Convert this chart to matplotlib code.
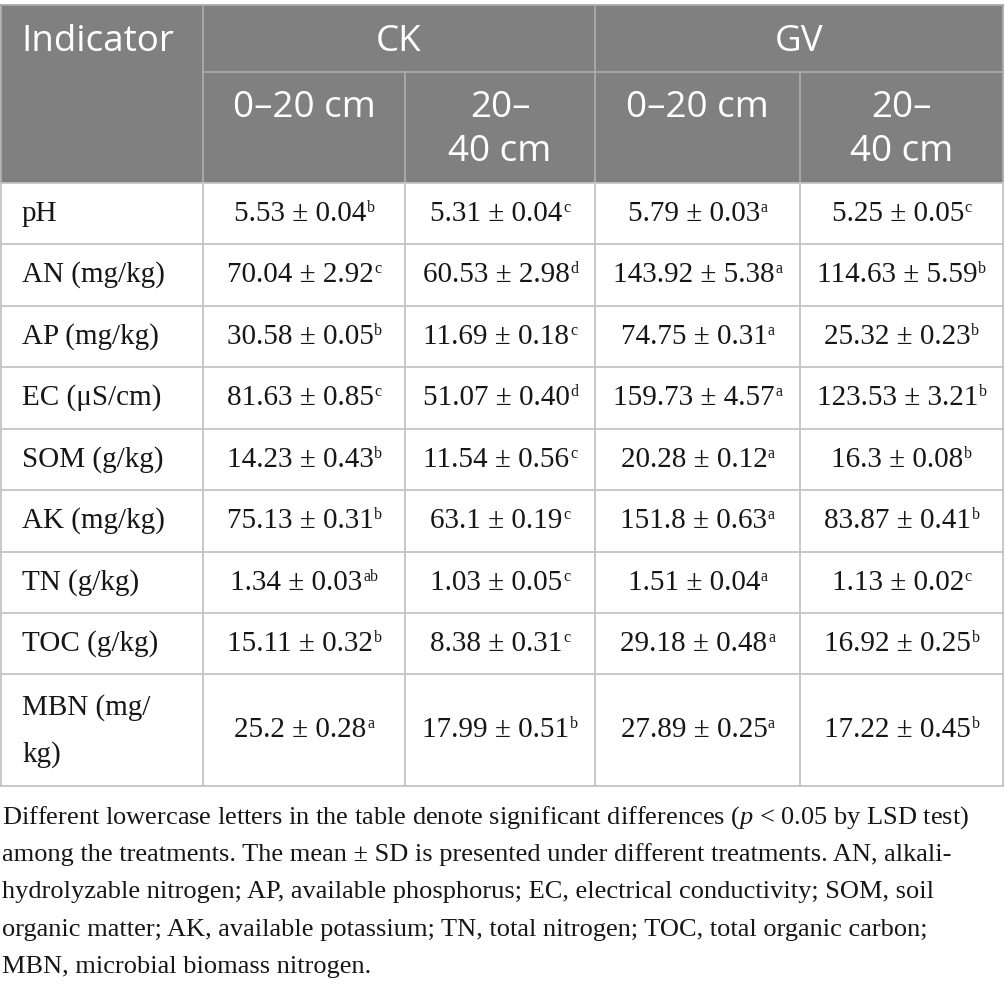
import matplotlib
matplotlib.use("Agg")
import matplotlib.pyplot as plt
from matplotlib.patches import Rectangle

plt.rcParams['mathtext.fontset'] = 'custom'
plt.rcParams['mathtext.rm'] = 'Liberation Serif'
plt.rcParams['mathtext.it'] = 'Liberation Serif:italic'

# --- table content ---
groups = ["CK", "GV"]
depths = ["0\u201320 cm", "20\u2013\n40 cm", "0\u201320 cm", "20\u2013\n40 cm"]
indicators = ["pH", "AN (mg/kg)", "AP (mg/kg)", "EC (\u03bcS/cm)", "SOM (g/kg)",
              "AK (mg/kg)", "TN (g/kg)", "TOC (g/kg)", "MBN (mg/\nkg)"]

ck_0_20 = ["5.53", "70.04", "30.58", "81.63", "14.23", "75.13", "1.34", "15.11", "25.2"]
ck_0_20_sd = ["0.04", "2.92", "0.05", "0.85", "0.43", "0.31", "0.03", "0.32", "0.28"]
ck_0_20_let = ["b", "c", "b", "c", "b", "b", "ab", "b", "a"]

ck_20_40 = ["5.31", "60.53", "11.69", "51.07", "11.54", "63.1", "1.03", "8.38", "17.99"]
ck_20_40_sd = ["0.04", "2.98", "0.18", "0.40", "0.56", "0.19", "0.05", "0.31", "0.51"]
ck_20_40_let = ["c", "d", "c", "d", "c", "c", "c", "c", "b"]

gv_0_20 = ["5.79", "143.92", "74.75", "159.73", "20.28", "151.8", "1.51", "29.18", "27.89"]
gv_0_20_sd = ["0.03", "5.38", "0.31", "4.57", "0.12", "0.63", "0.04", "0.48", "0.25"]
gv_0_20_let = ["a", "a", "a", "a", "a", "a", "a", "a", "a"]

gv_20_40 = ["5.25", "114.63", "25.32", "123.53", "16.3", "83.87", "1.13", "16.92", "17.22"]
gv_20_40_sd = ["0.05", "5.59", "0.23", "3.21", "0.08", "0.41", "0.02", "0.25", "0.45"]
gv_20_40_let = ["c", "b", "b", "b", "b", "b", "c", "b", "b"]

footnote = [
    "Different lowercase letters in the table denote significant differences ($\\mathit{p}$ < 0.05 by LSD test)",
    "among the treatments. The mean \u00b1 SD is presented under different treatments. AN, alkali-",
    "hydrolyzable nitrogen; AP, available phosphorus; EC, electrical conductivity; SOM, soil",
    "organic matter; AK, available potassium; TN, total nitrogen; TOC, total organic carbon;",
    "MBN, microbial biomass nitrogen.",
]

columns = [(ck_0_20, ck_0_20_sd, ck_0_20_let), (ck_20_40, ck_20_40_sd, ck_20_40_let),
           (gv_0_20, gv_0_20_sd, gv_0_20_let), (gv_20_40, gv_20_40_sd, gv_20_40_let)]

# --- layout in pixels ---
W, H = 1005, 988
col_x = [1, 203, 405, 595, 800, 1003]
row_y = [183, 244, 306, 367, 429, 490, 552, 613, 674, 786]
top, mid = 5, 72
head_bg = "#808080"
head_line = "#ababab"
body_line = "#c4c4c4"
ink = "#161616"
sans = "Open Sans"
serif = "Liberation Serif"
head_fs = 26.5

fig = plt.figure(figsize=(W / 100, H / 100), dpi=100)
ax = fig.add_axes([0, 0, 1, 1])
ax.set_xlim(0, W)
ax.set_ylim(H, 0)
ax.axis("off")
renderer = fig.canvas.get_renderer()

# header block
ax.add_patch(Rectangle((col_x[0], top), col_x[-1] - col_x[0], row_y[0] - top,
                       facecolor=head_bg, edgecolor="none"))
lw = 1.3
ax.plot([col_x[0], col_x[-1]], [top, top], color=head_line, lw=lw)
ax.plot([col_x[1], col_x[-1]], [mid, mid], color=head_line, lw=lw)
for x in [col_x[0], col_x[1], col_x[3], col_x[5]]:
    ax.plot([x, x], [top, row_y[0]], color=head_line, lw=lw)
for x in [col_x[2], col_x[4]]:
    ax.plot([x, x], [mid, row_y[0]], color=head_line, lw=lw)

ax.text(21, 42, "Indicator", color="white", fontsize=head_fs, family=sans,
        ha="left", va="center")
for i, g in enumerate(groups):
    xc = (col_x[1 + 2 * i] + col_x[3 + 2 * i]) / 2
    ax.text(xc, 42, g, color="white", fontsize=head_fs, family=sans,
            ha="center", va="center")
for i, d in enumerate(depths):
    xc = (col_x[i + 1] + col_x[i + 2]) / 2
    for k, part in enumerate(d.split("\n")):
        ax.text(xc, 108 + 44 * k, part, color="white", fontsize=head_fs, family=sans,
                ha="center", va="center")

# body grid
for y in row_y:
    ax.plot([col_x[0], col_x[-1]], [y, y], color=body_line, lw=lw)
for x in col_x:
    ax.plot([x, x], [row_y[0], row_y[-1]], color=body_line, lw=lw)


def cell(xc, yc, main, sup):
    # main value centred together with its small raised letter
    base = yc + 7
    t = ax.text(0, base, main, fontsize=21, family=serif, ha="left",
                va="baseline", color=ink)
    s = ax.text(0, base - 9, sup, fontsize=11.5, family=serif, ha="left",
                va="baseline", color=ink)
    wm = t.get_window_extent(renderer).width
    ws = s.get_window_extent(renderer).width
    x0 = xc - (wm + ws) / 2
    t.set_x(x0)
    s.set_x(x0 + wm + 0.5)


for r, name in enumerate(indicators):
    yc = (row_y[r] + row_y[r + 1]) / 2
    parts = name.split("\n")
    if len(parts) == 1:
        ax.text(22, yc + 7, name, fontsize=21, family=serif, ha="left",
                va="baseline", color=ink)
    else:
        for k, part in enumerate(parts):
            ax.text(22, yc - 15 + 47 * k, part, fontsize=21, family=serif,
                    ha="left", va="baseline", color=ink)
    for c, (means, sds, lets) in enumerate(columns):
        xc = (col_x[c + 1] + col_x[c + 2]) / 2
        cell(xc, yc, means[r] + " \u00b1 " + sds[r], lets[r])

# footnote
for k, line in enumerate(footnote):
    ax.text(2, 824 + 37.2 * k, line, fontsize=19, family=serif, ha="left",
            va="baseline", color=ink)

fig.savefig("out.png", dpi=100)
